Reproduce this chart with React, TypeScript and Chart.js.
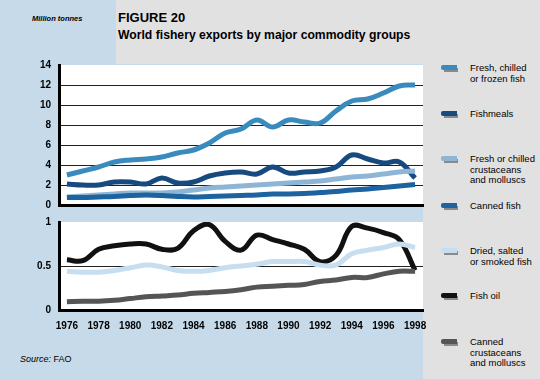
import React, { useEffect, useRef } from 'react';
import { Chart, registerables } from 'chart.js';

Chart.register(...registerables);

const years = ['1976','1977','1978','1979','1980','1981','1982','1983','1984','1985','1986','1987','1988','1989','1990','1991','1992','1993','1994','1995','1996','1997','1998'];

// Top panel (million tonnes)
const freshFish = [3.0, 3.4, 3.8, 4.3, 4.5, 4.6, 4.8, 5.2, 5.5, 6.2, 7.2, 7.6, 8.5, 7.8, 8.5, 8.3, 8.2, 9.4, 10.4, 10.6, 11.2, 11.9, 12.0];
const fishmeals = [2.1, 2.0, 2.0, 2.3, 2.3, 2.1, 2.7, 2.2, 2.3, 2.9, 3.2, 3.3, 3.1, 3.8, 3.2, 3.3, 3.4, 3.8, 5.0, 4.6, 4.2, 4.3, 2.7];
const freshCrustaceans = [0.8, 0.9, 1.0, 1.1, 1.2, 1.2, 1.2, 1.3, 1.5, 1.7, 1.8, 1.9, 2.0, 2.1, 2.2, 2.3, 2.4, 2.6, 2.8, 2.9, 3.1, 3.3, 3.4];
const cannedFish = [0.75, 0.75, 0.8, 0.85, 0.95, 1.0, 0.95, 0.85, 0.8, 0.85, 0.9, 0.95, 1.0, 1.1, 1.1, 1.15, 1.25, 1.35, 1.5, 1.6, 1.75, 1.9, 2.05];

// Bottom panel (million tonnes)
const driedFish = [0.44, 0.43, 0.43, 0.45, 0.48, 0.51, 0.49, 0.45, 0.44, 0.45, 0.48, 0.5, 0.52, 0.55, 0.55, 0.55, 0.51, 0.51, 0.64, 0.68, 0.71, 0.75, 0.71];
const fishOil = [0.57, 0.56, 0.69, 0.73, 0.75, 0.75, 0.69, 0.7, 0.9, 0.97, 0.78, 0.68, 0.85, 0.8, 0.75, 0.69, 0.55, 0.62, 0.95, 0.93, 0.88, 0.8, 0.45];
const cannedCrustaceans = [0.095, 0.1, 0.1, 0.11, 0.13, 0.15, 0.16, 0.17, 0.19, 0.2, 0.21, 0.23, 0.26, 0.27, 0.28, 0.29, 0.325, 0.34, 0.37, 0.37, 0.41, 0.44, 0.44];

const topTicks = [0, 2, 4, 6, 8, 10, 12, 14];
const bottomTicks = [0, 0.5, 1];
const bottomTickLabels = ['0', '0.5', '1'];

const legendItems = [
  { lines: ['Fresh, chilled', 'or frozen fish'], color: '#3a8bbd', y: 64 },
  { lines: ['Fishmeals'], color: '#174a7e', y: 110 },
  { lines: ['Fresh or chilled', 'crustaceans', 'and molluscs'], color: '#8db6d6', y: 155 },
  { lines: ['Canned fish'], color: '#1c63a0', y: 202 },
  { lines: ['Dried, salted', 'or smoked fish'], color: '#c6def0', y: 247 },
  { lines: ['Fish oil'], color: '#111111', y: 292 },
  { lines: ['Canned', 'crustaceans', 'and molluscs'], color: '#555555', y: 338 },
];

const FONT = '"Liberation Sans", Arial, Helvetica, sans-serif';

const plotBg = {
  id: 'plotBg',
  beforeDraw(chart: any) {
    const { ctx, chartArea: a } = chart;
    ctx.save();
    ctx.fillStyle = '#ffffff';
    ctx.fillRect(a.left, a.top, a.right - a.left, a.bottom - a.top);
    ctx.restore();
  },
};

function ds(label: string, data: number[], color: string) {
  return {
    label,
    data,
    borderColor: color,
    backgroundColor: color,
    borderWidth: 5,
    pointRadius: 0,
    tension: 0.4,
    fill: false,
  };
}

const noPad = (s: any) => {
  s.paddingTop = 0;
  s.paddingBottom = 0;
  s.paddingLeft = 0;
  s.paddingRight = 0;
};

export default function App() {
  const topRef = useRef<HTMLCanvasElement>(null);
  const botRef = useRef<HTMLCanvasElement>(null);

  useEffect(() => {
    const tickFont = { family: FONT, size: 10, weight: 'bold' as const };
    const top = new Chart(topRef.current!, {
      type: 'line',
      data: {
        labels: years,
        datasets: [
          ds('Canned fish', cannedFish, '#1c63a0'),
          ds('Fresh or chilled crustaceans and molluscs', freshCrustaceans, '#8db6d6'),
          ds('Fishmeals', fishmeals, '#174a7e'),
          ds('Fresh, chilled or frozen fish', freshFish, '#3a8bbd'),
        ],
      },
      options: {
        animation: false,
        responsive: false,
        maintainAspectRatio: false,
        layout: { padding: { top: 10, right: 7, bottom: 5, left: 0 } },
        plugins: { legend: { display: false }, tooltip: { enabled: false } },
        scales: {
          x: {
            offset: true,
            grid: { display: false, drawTicks: false },
            border: { display: true, width: 3, color: '#000' },
            ticks: { display: false },
            afterFit: (s: any) => { s.height = 0; noPad(s); },
          },
          y: {
            min: 0,
            max: 14,
            afterBuildTicks: (s: any) => { s.ticks = topTicks.map((v) => ({ value: v })); },
            ticks: { padding: 8, color: '#000', font: tickFont },
            grid: {
              drawTicks: false,
              lineWidth: 1,
              color: (c: any) => (c.tick && (c.tick.value === 0 || c.tick.value === 14) ? 'rgba(0,0,0,0)' : '#222'),
            },
            border: { width: 3, color: '#000' },
            afterFit: (s: any) => { s.width = 59; noPad(s); },
          },
        },
      },
      plugins: [plotBg],
    });

    const bottom = new Chart(botRef.current!, {
      type: 'line',
      data: {
        labels: years,
        datasets: [
          ds('Canned crustaceans and molluscs', cannedCrustaceans, '#555555'),
          ds('Dried, salted or smoked fish', driedFish, '#c6def0'),
          ds('Fish oil', fishOil, '#111111'),
        ],
      },
      options: {
        animation: false,
        responsive: false,
        maintainAspectRatio: false,
        layout: { padding: { top: 10, right: 7, bottom: 0, left: 0 } },
        plugins: { legend: { display: false }, tooltip: { enabled: false } },
        scales: {
          x: {
            offset: true,
            grid: { display: false, drawTicks: false },
            border: { display: true, width: 3, color: '#000' },
            ticks: {
              autoSkip: false,
              maxRotation: 0,
              padding: 10,
              color: '#000',
              font: tickFont,
              callback: (_v: any, i: number) => (i % 2 === 0 ? years[i] : ''),
            },
            afterFit: (s: any) => { s.height = 30; noPad(s); },
          },
          y: {
            min: 0,
            max: 1,
            afterBuildTicks: (s: any) => { s.ticks = bottomTicks.map((v) => ({ value: v })); },
            ticks: {
              padding: 8,
              color: '#000',
              font: tickFont,
              callback: (_v: any, i: number) => bottomTickLabels[i],
            },
            grid: {
              drawTicks: false,
              lineWidth: 1,
              color: (c: any) => (c.tick && (c.tick.value === 0 || c.tick.value === 1) ? 'rgba(0,0,0,0)' : '#222'),
            },
            border: { width: 3, color: '#000' },
            afterFit: (s: any) => { s.width = 59; noPad(s); },
          },
        },
      },
      plugins: [plotBg],
    });

    return () => {
      top.destroy();
      bottom.destroy();
    };
  }, []);

  const abs = (l: number, t: number, w: number, h: number, extra: React.CSSProperties = {}): React.CSSProperties => ({
    position: 'absolute', left: l, top: t, width: w, height: h, ...extra,
  });

  return (
    <div style={{ position: 'absolute', left: 0, top: 0, width: 540, height: 379, background: '#c6dae9', overflow: 'hidden', fontFamily: FONT, color: '#000' }}>
      <div style={abs(116, 0, 424, 64, { background: '#e1e1e1' })} />
      <div style={abs(423, 0, 117, 379, { background: '#e1e1e1' })} />

      <div style={{ position: 'absolute', left: 32, top: 14, fontSize: 7.5, fontWeight: 'bold', fontStyle: 'italic', whiteSpace: 'nowrap' }}>Million tonnes</div>
      <div style={{ position: 'absolute', left: 118, top: 10, fontSize: 13, fontWeight: 'bold', whiteSpace: 'nowrap', lineHeight: '16px' }}>FIGURE 20</div>
      <div style={{ position: 'absolute', left: 118, top: 27, fontSize: 12.2, fontWeight: 'bold', whiteSpace: 'nowrap', lineHeight: '16px' }}>World fishery exports by major commodity groups</div>

      <canvas ref={topRef} width={430} height={155} style={{ position: 'absolute', left: 0, top: 55, width: 430, height: 155 }} />
      <canvas ref={botRef} width={430} height={128} style={{ position: 'absolute', left: 0, top: 212, width: 430, height: 128 }} />

      {legendItems.map((it, i) => (
        <div key={i}>
          <div style={abs(444, it.y + 4, 14, 4, { background: '#8a8a8a' })} />
          <div style={abs(441, it.y + 1, 16, 5, { background: it.color, borderRadius: '2px 0 0 2px' })} />
          <div style={{ position: 'absolute', left: 470, top: it.y - 1, fontSize: 9.5, lineHeight: '10.5px', whiteSpace: 'nowrap' }}>
            {it.lines.map((l, j) => (<div key={j}>{l}</div>))}
          </div>
        </div>
      ))}

      <div style={{ position: 'absolute', left: 20, top: 354, fontSize: 9, whiteSpace: 'nowrap' }}>
        <i>Source:</i> FAO
      </div>
    </div>
  );
}
